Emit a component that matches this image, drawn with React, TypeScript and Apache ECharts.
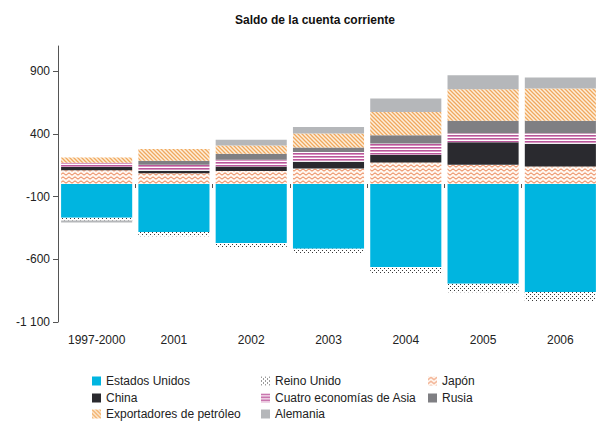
import React, { useEffect, useRef } from 'react';
import * as echarts from 'echarts';

const categories = ['1997-2000', '2001', '2002', '2003', '2004', '2005', '2006'];
const estadosUnidos = [-270, -383, -470, -516, -661, -796, -860];
const reinoUnido = [-20, -34, -34, -37, -48, -66, -75];
const japon = [110, 85, 103, 124, 172, 153, 140];
const china = [25, 21, 37, 53, 61, 180, 180];
const cuatroAsia = [35, 48, 53, 79, 90, 71, 85];
const rusia = [0, 32, 48, 34, 66, 101, 100];
const exportadores = [42, 93, 66, 112, 185, 251, 257];
const alemania = [-16, 0, 45, 53, 108, 111, 87];
const yTicks = [-1100, -600, -100, 400, 900];

const FONT = '"Liberation Sans", Arial, sans-serif';

function makePattern(w: number, h: number, draw: (ctx: CanvasRenderingContext2D) => void) {
  const c = document.createElement('canvas');
  c.width = w;
  c.height = h;
  const ctx = c.getContext('2d')!;
  draw(ctx);
  return { image: c.toDataURL(), repeat: 'repeat', imageWidth: w, imageHeight: h } as any;
}

export default function App() {
  const ref = useRef<HTMLDivElement>(null);
  useEffect(() => {
    if (!ref.current) return;
    const chart = echarts.init(ref.current, null, { renderer: 'svg' });

    const zigzag = makePattern(6, 4, (ctx) => {
      ctx.fillStyle = '#fff7f0';
      ctx.fillRect(0, 0, 6, 4);
      ctx.strokeStyle = '#e87a48';
      ctx.lineWidth = 1;
      ctx.beginPath();
      ctx.moveTo(0, 3.2);
      ctx.lineTo(3, 0.8);
      ctx.lineTo(6, 3.2);
      ctx.stroke();
    });
    const dots = makePattern(4, 4, (ctx) => {
      ctx.fillStyle = '#ffffff';
      ctx.fillRect(0, 0, 4, 4);
      ctx.fillStyle = '#3a3a3a';
      ctx.fillRect(0, 0, 1, 1);
      ctx.fillRect(2, 2, 1, 1);
    });
    const stripes = makePattern(4, 3, (ctx) => {
      ctx.fillStyle = '#ffffff';
      ctx.fillRect(0, 0, 4, 3);
      ctx.fillStyle = '#b9579a';
      ctx.fillRect(0, 0, 4, 1);
      ctx.fillStyle = '#d896c2';
      ctx.fillRect(0, 1, 4, 1);
    });
    const diag = makePattern(4, 4, (ctx) => {
      ctx.fillStyle = '#fdefdc';
      ctx.fillRect(0, 0, 4, 4);
      ctx.strokeStyle = '#f0a85e';
      ctx.lineWidth = 1.3;
      ctx.beginPath();
      ctx.moveTo(-1, -1);
      ctx.lineTo(5, 5);
      ctx.moveTo(-1, 3);
      ctx.lineTo(1, 5);
      ctx.moveTo(3, -1);
      ctx.lineTo(5, 1);
      ctx.stroke();
    });

    const mk = (name: string, data: number[], color: any) => ({
      name,
      type: 'bar',
      stack: 'total',
      data,
      barCategoryGap: '8%',
      itemStyle: { color },
      emphasis: { disabled: true },
    });

    const legendItem = (name: string, left: number, top: number) => ({
      data: [name],
      left,
      top,
      padding: 0,
      itemWidth: 9,
      itemHeight: 9,
      selectedMode: false,
      icon: 'rect',
      textStyle: { fontFamily: FONT, fontSize: 12, color: '#222' },
    });

    const row = [375, 392, 408];
    const col = [92, 261, 428];

    chart.setOption({
      animation: false,
      title: {
        text: 'Saldo de la cuenta corriente',
        left: 310,
        top: 9,
        textAlign: 'center',
        textStyle: { fontFamily: FONT, fontSize: 12, fontWeight: 'bold', color: '#111' },
      },
      legend: [
        legendItem('Estados Unidos', col[0], row[0]),
        legendItem('Reino Unido', col[1], row[0]),
        legendItem('Japón', col[2], row[0]),
        legendItem('China', col[0], row[1]),
        legendItem('Cuatro economías de Asia', col[1], row[1]),
        legendItem('Rusia', col[2], row[1]),
        legendItem('Exportadores de petróleo', col[0], row[2]),
        legendItem('Alemania', col[1], row[2]),
      ],
      grid: { left: 58, right: -5, top: 46, bottom: 100, containLabel: false },
      xAxis: [
        {
          type: 'category',
          data: categories,
          axisLine: { show: true, onZero: true, lineStyle: { color: 'rgba(0,0,0,0)' } },
          axisTick: { show: true, length: 4, inside: false, lineStyle: { color: '#555' } },
          axisLabel: { show: false },
        },
        {
          type: 'category',
          data: categories,
          position: 'bottom',
          axisLine: { show: false, onZero: false },
          axisTick: { show: false },
          axisLabel: { show: true, margin: 12, fontFamily: FONT, fontSize: 12, color: '#222' },
        },
      ],
      yAxis: {
        type: 'value',
        min: -1100,
        max: 1100,
        splitLine: { show: false },
        axisLine: { show: true, lineStyle: { color: '#555' } },
        axisTick: { show: true, length: 5, customValues: yTicks, lineStyle: { color: '#555' } },
        axisLabel: {
          customValues: yTicks,
          margin: 8,
          fontFamily: FONT,
          fontSize: 12,
          color: '#222',
          formatter: (v: number) => {
            const s = Math.abs(v).toString();
            const f = s.length > 3 ? s.slice(0, s.length - 3) + ' ' + s.slice(s.length - 3) : s;
            return (v < 0 ? '-' : '') + f;
          },
        },
      },
      series: [
        mk('Estados Unidos', estadosUnidos, '#00b5e0'),
        mk('Reino Unido', reinoUnido, dots),
        mk('Japón', japon, zigzag),
        mk('China', china, '#2a2a2f'),
        mk('Cuatro economías de Asia', cuatroAsia, stripes),
        mk('Rusia', rusia, '#7f7f83'),
        mk('Exportadores de petróleo', exportadores, diag),
        mk('Alemania', alemania, '#b5b7ba'),
      ],
    });
    return () => chart.dispose();
  }, []);
  return (
    <div
      ref={ref}
      style={{ position: 'fixed', left: 0, top: 0, width: 599, height: 422, background: '#fff' }}
    />
  );
}
